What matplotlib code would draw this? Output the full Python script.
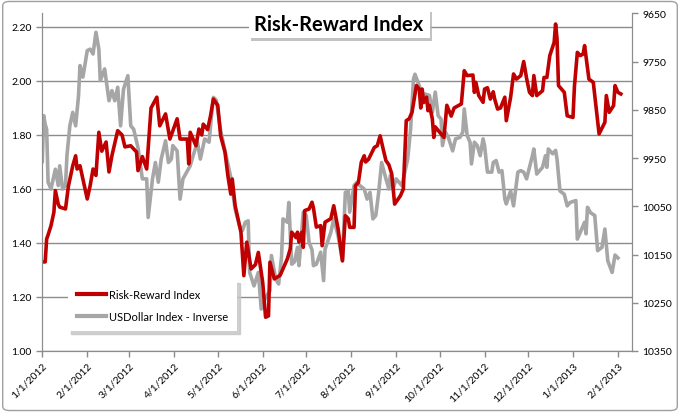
import pandas as pd
import numpy as np
import matplotlib
matplotlib.use('Agg')
import matplotlib.pyplot as plt
import matplotlib.dates as mdates
from matplotlib.patches import FancyBboxPatch

# Risk-Reward Index (левая ось), дни от 1/1/2012
rr_days = [0, 2, 3, 4, 6, 8, 9, 11, 12, 16, 18, 21, 23, 24, 26, 31, 33, 35, 37, 39,
           41, 44, 46, 48, 52, 55, 57, 61, 65, 66, 69, 72, 75, 79, 81, 85, 88, 93, 95, 100,
           101, 102, 106, 108, 110, 111, 114, 116, 118, 121, 123, 126, 128, 130, 131, 133, 137, 139, 141, 144,
           147, 149, 152, 154, 156, 157, 160, 164, 169, 171, 172, 175, 176, 177, 179, 180, 181, 184, 186, 187,
           189, 192, 193, 195, 199, 201, 204, 207, 209, 211, 212, 215, 216, 218, 220, 222, 223, 225, 229, 231,
           233, 235, 237, 239, 241, 243, 247, 249, 251, 253, 255, 258, 260, 261, 262, 263, 265, 266, 267, 269,
           270, 271, 275, 277, 279, 282, 284, 289, 291, 293, 297, 298, 299, 301, 304, 305, 307, 309, 311, 312,
           314, 316, 319, 320, 323, 325, 327, 330, 332, 334, 336, 338, 339, 341, 345, 346, 348, 350, 353, 354,
           355, 356, 359, 360, 362, 366, 367, 369, 371, 373, 374, 377, 380, 384, 388, 389, 391, 394, 395, 397,
           399]
rr_vals = [1.33, 1.33, 1.415, 1.43, 1.464, 1.514, 1.594, 1.544, 1.533, 1.526, 1.61, 1.686, 1.723, 1.674, 1.686, 1.563, 1.612, 1.674, 1.65, 1.81,
           1.74, 1.774, 1.663, 1.723, 1.816, 1.80, 1.756, 1.76, 1.737, 1.668, 1.72, 1.674, 1.90, 1.94, 1.834, 1.878, 1.785, 1.86, 1.785, 1.785,
           1.693, 1.81, 1.76, 1.822, 1.80, 1.84, 1.82, 1.87, 1.933, 1.91, 1.797, 1.736, 1.649, 1.581, 1.637, 1.538, 1.44, 1.279, 1.403, 1.304,
           1.32, 1.365, 1.254, 1.125, 1.13, 1.329, 1.267, 1.28, 1.341, 1.378, 1.44, 1.42, 1.44, 1.403, 1.44, 1.384, 1.52, 1.526, 1.551, 1.53,
           1.459, 1.464, 1.39, 1.477, 1.49, 1.538, 1.452, 1.334, 1.501, 1.49, 1.458, 1.458, 1.612, 1.624, 1.699, 1.723, 1.70, 1.71, 1.754, 1.76,
           1.797, 1.75, 1.705, 1.69, 1.656, 1.544, 1.575, 1.60, 1.853, 1.86, 1.884, 1.983, 1.97, 1.90, 1.97, 1.92, 1.94, 1.89, 1.91, 1.86,
           1.791, 1.83, 1.804, 1.791, 1.91, 1.87, 1.90, 1.915, 2.038, 2.02, 2.022, 1.958, 1.995, 1.946, 1.921, 1.97, 1.975, 1.933, 1.96, 1.933,
           1.896, 1.90, 1.94, 1.853, 1.94, 2.026, 2.007, 2.02, 2.072, 2.01, 1.958, 1.946, 2.02, 1.946, 1.964, 2.013, 2.013, 2.094, 2.143, 2.211,
           2.156, 1.983, 1.964, 1.958, 1.871, 1.865, 1.98, 2.106, 2.094, 2.10, 2.131, 2.007, 1.995, 1.804, 1.847, 1.946, 1.884, 1.909, 1.983, 1.958,
           1.952]

# USDollar Index - Inverse (правая ось, перевёрнутая)
usd_days = [0, 1, 2, 3, 4, 6, 9, 11, 12, 14, 16, 17, 19, 21, 23, 25, 26, 28, 31, 33,
            35, 37, 39, 40, 43, 46, 48, 50, 52, 54, 56, 59, 61, 63, 66, 69, 72, 73, 76, 78,
            80, 82, 85, 87, 89, 90, 93, 95, 97, 102, 104, 107, 109, 112, 115, 117, 118, 120, 123, 126,
            130, 133, 136, 138, 140, 142, 143, 146, 149, 151, 154, 157, 158, 161, 163, 165, 166, 169, 170, 172,
            174, 176, 177, 180, 182, 184, 186, 187, 189, 192, 194, 195, 199, 201, 204, 207, 209, 211, 212, 215,
            217, 219, 222, 224, 226, 228, 230, 232, 234, 237, 239, 240, 242, 244, 246, 248, 252, 254, 256, 257,
            260, 262, 264, 267, 269, 271, 273, 275, 276, 278, 280, 283, 285, 288, 290, 291, 293, 295, 296, 298,
            300, 302, 304, 305, 307, 310, 311, 313, 315, 317, 319, 320, 323, 325, 328, 330, 332, 334, 338, 339,
            341, 345, 347, 348, 349, 352, 354, 355, 357, 360, 362, 364, 368, 369, 372, 374, 375, 376, 378, 381,
            383, 386, 388, 390, 393, 395, 397]
usd_vals = [9957, 9862, 9880, 9890, 10000, 10014, 9973, 10007, 9966, 10014, 10007, 9945, 9883, 9855, 9883, 9820, 9758, 9782, 9727, 9724,
            9734, 9689, 9724, 9789, 9765, 9831, 9810, 9831, 9803, 9883, 9807, 9779, 9883, 9890, 9928, 9993, 9993, 10073, 9993, 9959,
            10000, 9952, 9914, 9959, 9952, 9924, 9935, 10035, 9993, 9966, 9945, 9917, 9952, 9910, 9917, 9852, 9824, 9830, 9893, 9935,
            9990, 10056, 10090, 10100, 10083, 10080, 10187, 10215, 10187, 10263, 10239, 10225, 10152, 10201, 10211, 10155, 10076, 10083, 10042, 10170,
            10165, 10135, 10173, 10062, 10069, 10125, 10140, 10173, 10170, 10145, 10204, 10139, 10104, 10076, 10111, 10163, 10021, 10018, 10062, 10007,
            10000, 10007, 10014, 10035, 10021, 10076, 10069, 10021, 9959, 9993, 10014, 9986, 10014, 9993, 10000, 10007, 9952, 9890, 9786, 9776,
            9800, 9820, 9817, 9820, 9855, 9813, 9862, 9869, 9924, 9896, 9907, 9935, 9910, 9907, 9896, 9848, 9903, 9917, 9962, 9917,
            9924, 9945, 9910, 9924, 9979, 9979, 9959, 9955, 9979, 9976, 10035, 10045, 10018, 10049, 9979, 9976, 9979, 9993, 9945, 9931,
            9983, 9969, 9945, 9969, 9931, 9941, 9934, 9952, 10018, 10025, 10049, 10042, 10038, 10118, 10097, 10083, 10107, 10052, 10063, 10069,
            10142, 10135, 10097, 10163, 10187, 10151, 10157]

left_ticks = [1.00, 1.20, 1.40, 1.60, 1.80, 2.00, 2.20]
right_ticks = [9650, 9750, 9850, 9950, 10050, 10150, 10250, 10350]

base = pd.Timestamp('2012-01-01')
rr_dates = base + pd.to_timedelta(rr_days, unit='D')
usd_dates = base + pd.to_timedelta(usd_days, unit='D')

plt.rcParams['font.family'] = ['Lato', 'DejaVu Sans']
axis_col = '#8c8c8c'

fig = plt.figure(figsize=(6.8, 4.14), dpi=100)
ax = fig.add_axes([0.0622, 0.1498, 0.867, 0.8152])
ax2 = ax.twinx()

ax.set_ylim(1.0, 2.25)
ax2.set_ylim(10350, 9650)
ax.set_xlim(base, base + pd.Timedelta(days=406.6))

# серая линия по правой оси, красная поверх неё
ax.plot(usd_dates, usd_vals, color='#a6a6a6', lw=2.6, transform=ax2.transData,
        label='USDollar Index - Inverse', solid_joinstyle='round')
ax.plot(rr_dates, rr_vals, color='#c00000', lw=2.6, label='Risk-Reward Index',
        solid_joinstyle='round')

ax.set_yticks(left_ticks)
ax.set_yticklabels([f'{v:.2f}' for v in left_ticks])
ax2.set_yticks(right_ticks)
ax.yaxis.grid(True, color=axis_col, lw=1)
ax.set_axisbelow(True)

months = pd.date_range('2012-01-01', '2013-02-01', freq='MS')
ax.set_xticks(months)
ax.set_xticklabels([f'{d.month}/{d.day}/{d.year}' for d in months],
                   rotation=45, ha='right', rotation_mode='anchor')

for a in (ax, ax2):
    a.spines['top'].set_visible(False)
    for s in ('left', 'right', 'bottom'):
        a.spines[s].set_color(axis_col)
    a.tick_params(colors=axis_col, labelcolor='black', labelsize=7.5, length=4, width=1)
ax.tick_params(axis='x', pad=3)

h1, l1 = ax.get_legend_handles_labels()
leg = ax2.legend(h1[::-1], l1[::-1], loc='lower left', bbox_to_anchor=(0.044, 0.059),
                 borderaxespad=0, frameon=True, shadow={'color': '#c4c4c4', 'alpha': 0.8},
                 fontsize=8, handlelength=2.6, labelspacing=1.0, borderpad=0.8,
                 handletextpad=0.3)
leg.get_frame().set_edgecolor('none')
leg.get_frame().set_facecolor('white')
leg.get_frame().set_boxstyle('square', pad=0)
for ln in leg.get_lines():
    ln.set_linewidth(3)

# заголовок в белой рамке с тенью
fig.patches.append(FancyBboxPatch((251 / 680, 1 - 42 / 414), 181 / 680, 29 / 414,
                                  boxstyle='square,pad=0', transform=fig.transFigure,
                                  facecolor='#b4b4b4', edgecolor='none', alpha=0.8, zorder=5))
fig.patches.append(FancyBboxPatch((249 / 680, 1 - 39 / 414), 181 / 680, 29 / 414,
                                  boxstyle='square,pad=0', transform=fig.transFigure,
                                  facecolor='white', edgecolor='none', zorder=6))
fig.text(339 / 680, 1 - 25 / 414, 'Risk-Reward Index', ha='center', va='center',
         fontsize=14.5, fontweight='bold', zorder=7)

# рамка вокруг всей картинки
fig.patches.append(FancyBboxPatch((0.004, 0.006), 0.992, 0.988,
                                  boxstyle='round,pad=0,rounding_size=0.01',
                                  transform=fig.transFigure, facecolor='none',
                                  edgecolor='#a0a0a0', lw=1, zorder=0))

plt.savefig('out.png', dpi=100)
